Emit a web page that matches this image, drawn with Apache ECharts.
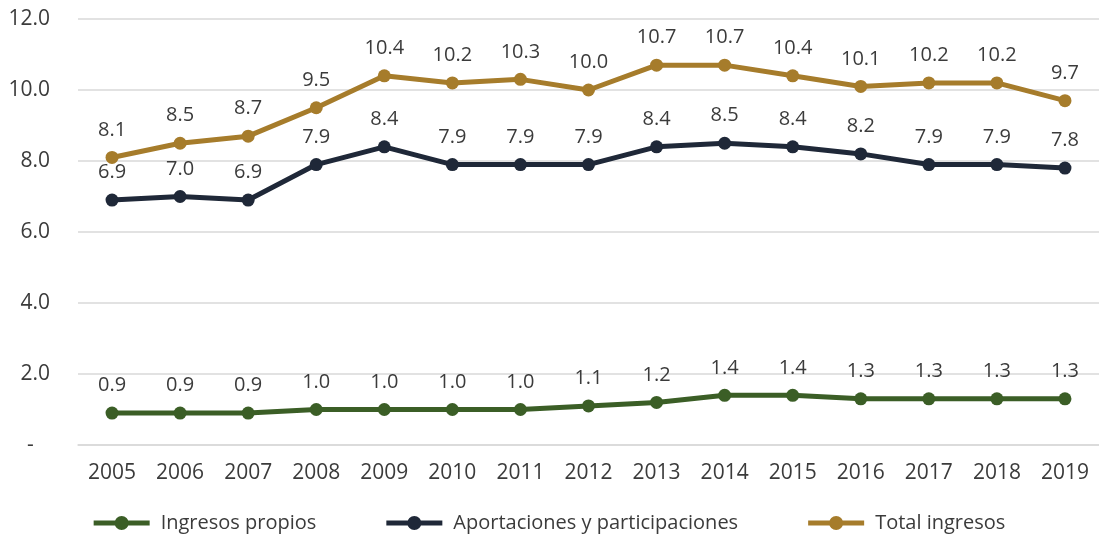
<!DOCTYPE html>
<html>
<head>
<meta charset="utf-8">
<script src="https://cdn.jsdelivr.net/npm/echarts@6/dist/echarts.min.js"></script>
<style>
  html, body { margin: 0; padding: 0; background: #fff; }
  #main { width: 1099px; height: 544px; }
</style>
</head>
<body>
<div id="main"></div>
<script>
// datos
var years = ['2005','2006','2007','2008','2009','2010','2011','2012','2013','2014','2015','2016','2017','2018','2019'];
var ingresosPropios = [0.9, 0.9, 0.9, 1.0, 1.0, 1.0, 1.0, 1.1, 1.2, 1.4, 1.4, 1.3, 1.3, 1.3, 1.3];
var aportaciones = [6.9, 7.0, 6.9, 7.9, 8.4, 7.9, 7.9, 7.9, 8.4, 8.5, 8.4, 8.2, 7.9, 7.9, 7.8];
var totalIngresos = [8.1, 8.5, 8.7, 9.5, 10.4, 10.2, 10.3, 10.0, 10.7, 10.7, 10.4, 10.1, 10.2, 10.2, 9.7];

var myChart = echarts.init(document.getElementById('main'));

var font = 'Open Sans';
var txt = '#3b3b3b';
// linea gruesa con punto para la leyenda
var legendIcon = 'path://M0,4.5 L56,4.5 L56,9.5 L0,9.5 Z M35,7 A7,7 0 1 1 21,7 A7,7 0 1 1 35,7 Z';

function serie(name, data, color) {
  return {
    name: name,
    type: 'line',
    data: data,
    symbol: 'circle',
    symbolSize: 13,
    lineStyle: { width: 5, color: color },
    itemStyle: { color: color },
    label: {
      show: true,
      position: 'top',
      distance: 11,
      fontFamily: font,
      fontSize: 20,
      color: txt,
      formatter: function (p) { return p.value.toFixed(1); }
    },
    animation: false
  };
}

var option = {
  grid: { left: 78, right: -8, top: 19, bottom: 99 },
  legend: {
    bottom: 6,
    left: 'center',
    icon: legendIcon,
    itemWidth: 56,
    itemHeight: 14,
    itemGap: 70,
    textStyle: { fontFamily: font, fontSize: 20, color: txt, padding: [0, 0, 0, 6] },
    data: ['Ingresos propios', 'Aportaciones y participaciones', 'Total ingresos']
  },
  xAxis: {
    type: 'category',
    data: years,
    boundaryGap: true,
    axisLine: { show: true, lineStyle: { color: '#d9d9d9', width: 1.5 } },
    axisTick: { show: false },
    axisLabel: { fontFamily: font, fontSize: 21, color: txt, margin: 18 }
  },
  yAxis: {
    type: 'value',
    min: 0,
    max: 12,
    interval: 2,
    axisLine: { show: false },
    axisTick: { show: false },
    splitLine: { lineStyle: { color: '#d9d9d9', width: 1.5 } },
    axisLabel: {
      fontFamily: font, fontSize: 21, color: txt, margin: 28,
      formatter: function (v) { return v === 0 ? '-   ' : v.toFixed(1); }
    }
  },
  series: [
    serie('Ingresos propios', ingresosPropios, '#3b5e26'),
    serie('Aportaciones y participaciones', aportaciones, '#1f2838'),
    serie('Total ingresos', totalIngresos, '#a67c2b')
  ]
};

myChart.setOption(option);
</script>
</body>
</html>
